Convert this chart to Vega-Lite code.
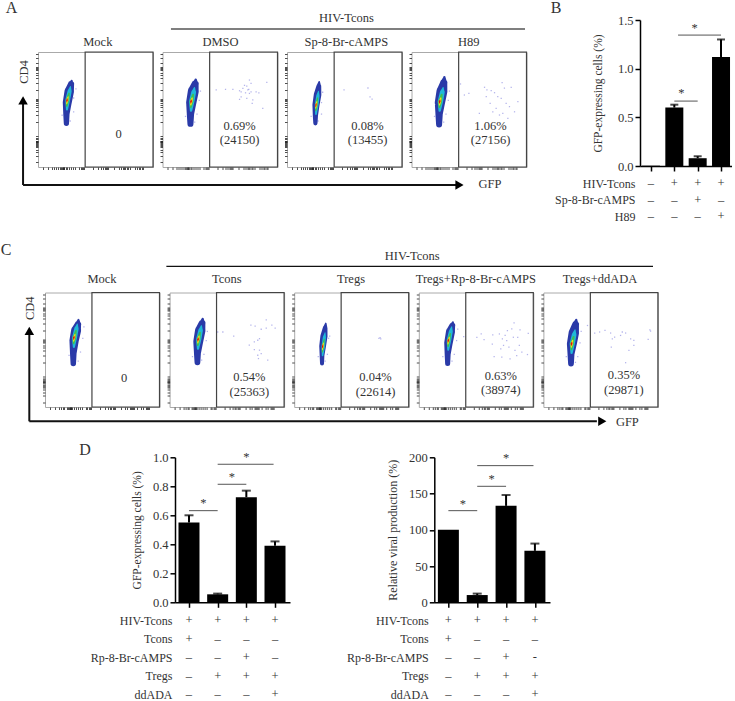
{"$schema":"https://vega.github.io/schema/vega-lite/v6.json","padding":0,"background":"#ffffff","spacing":272.5,"bounds":"flush",
"config":{"view":{"stroke":null},"axis":{"grid":false,"tickCount":100,"labelOverlap":false,"labelFont":"Liberation Serif","titleFont":"Liberation Serif","labelColor":"#333","titleColor":"#333","titleFontWeight":"normal"},"text":{"font":"Liberation Serif","fontSize":12.5,"color":"#333"}},
"datasets":{
"barB":[{"group":1,"value":0.003},{"group":2,"value":0.6,"upper":0.63},{"group":3,"value":0.08,"upper":0.1},{"group":4,"value":1.12,"upper":1.3}],
"bracketB":[{"x":2,"x2":3,"y":0.667,"sx":2.3,"sy":0.75},{"x":2.16,"x2":4,"y":1.345,"sx":2.87,"sy":1.418}],
"matrixB":[{"cond":"HIV-Tcons","group":1,"sign":"–"},{"cond":"HIV-Tcons","group":2,"sign":"+"},{"cond":"HIV-Tcons","group":3,"sign":"+"},{"cond":"HIV-Tcons","group":4,"sign":"+"},{"cond":"Sp-8-Br-cAMPS","group":1,"sign":"–"},{"cond":"Sp-8-Br-cAMPS","group":2,"sign":"–"},{"cond":"Sp-8-Br-cAMPS","group":3,"sign":"+"},{"cond":"Sp-8-Br-cAMPS","group":4,"sign":"–"},{"cond":"H89","group":1,"sign":"–"},{"cond":"H89","group":2,"sign":"–"},{"cond":"H89","group":3,"sign":"–"},{"cond":"H89","group":4,"sign":"+"}],
"barD1":[{"group":1,"value":0.55,"upper":0.6},{"group":2,"value":0.055,"upper":0.06},{"group":3,"value":0.725,"upper":0.77},{"group":4,"value":0.39,"upper":0.42}],
"bracketD1":[{"x":1,"x2":2,"y":0.632,"sx":1.5,"sy":0.683},{"x":2,"x2":3,"y":0.814,"sx":2.5,"sy":0.862},{"x":2,"x2":3.95,"y":0.952,"sx":3,"sy":1.005}],
"barD2":[{"group":1,"value":100},{"group":2,"value":10,"upper":12},{"group":3,"value":133,"upper":148},{"group":4,"value":71,"upper":81}],
"bracketD2":[{"x":1,"x2":2,"y":126.4,"sx":1.5,"sy":136},{"x":2,"x2":3,"y":160,"sx":2.5,"sy":170},{"x":2,"x2":3.95,"y":188.5,"sx":3,"sy":199}],
"matrixD1":[{"cond":"HIV-Tcons","group":1,"sign":"+"},{"cond":"HIV-Tcons","group":2,"sign":"+"},{"cond":"HIV-Tcons","group":3,"sign":"+"},{"cond":"HIV-Tcons","group":4,"sign":"+"},{"cond":"Tcons","group":1,"sign":"+"},{"cond":"Tcons","group":2,"sign":"–"},{"cond":"Tcons","group":3,"sign":"–"},{"cond":"Tcons","group":4,"sign":"–"},{"cond":"Rp-8-Br-cAMPS","group":1,"sign":"–"},{"cond":"Rp-8-Br-cAMPS","group":2,"sign":"–"},{"cond":"Rp-8-Br-cAMPS","group":3,"sign":"+"},{"cond":"Rp-8-Br-cAMPS","group":4,"sign":"–"},{"cond":"Tregs","group":1,"sign":"–"},{"cond":"Tregs","group":2,"sign":"+"},{"cond":"Tregs","group":3,"sign":"+"},{"cond":"Tregs","group":4,"sign":"+"},{"cond":"ddADA","group":1,"sign":"–"},{"cond":"ddADA","group":2,"sign":"–"},{"cond":"ddADA","group":3,"sign":"–"},{"cond":"ddADA","group":4,"sign":"+"}],
"matrixD2":[{"cond":"HIV-Tcons","group":1,"sign":"+"},{"cond":"HIV-Tcons","group":2,"sign":"+"},{"cond":"HIV-Tcons","group":3,"sign":"+"},{"cond":"HIV-Tcons","group":4,"sign":"+"},{"cond":"Tcons","group":1,"sign":"+"},{"cond":"Tcons","group":2,"sign":"–"},{"cond":"Tcons","group":3,"sign":"–"},{"cond":"Tcons","group":4,"sign":"–"},{"cond":"Rp-8-Br-cAMPS","group":1,"sign":"–"},{"cond":"Rp-8-Br-cAMPS","group":2,"sign":"–"},{"cond":"Rp-8-Br-cAMPS","group":3,"sign":"+"},{"cond":"Rp-8-Br-cAMPS","group":4,"sign":"-"},{"cond":"Tregs","group":1,"sign":"–"},{"cond":"Tregs","group":2,"sign":"+"},{"cond":"Tregs","group":3,"sign":"+"},{"cond":"Tregs","group":4,"sign":"+"},{"cond":"ddADA","group":1,"sign":"–"},{"cond":"ddADA","group":2,"sign":"–"},{"cond":"ddADA","group":3,"sign":"–"},{"cond":"ddADA","group":4,"sign":"+"}],
"flowA":[
{"panel":"Mock","kind":"gate","x":41,"x2":100,"y":0,"y2":100},{"panel":"DMSO","kind":"gate","x":41,"x2":100,"y":0,"y2":100},{"panel":"Sp","kind":"gate","x":41,"x2":100,"y":0,"y2":100},{"panel":"H89","kind":"gate","x":41,"x2":100,"y":0,"y2":100},
{"panel":"Mock","kind":"line","x":-13,"x2":364,"y":-15.65,"y2":-15.65},{"panel":"Mock","kind":"line","x":-13,"x2":-13,"y":-15.65,"y2":55},
{"panel":"Mock","kind":"up","x":-13,"y":58},{"panel":"Mock","kind":"right","x":366.5,"y":-15.65},
{"panel":"Mock","kind":"vtext","x":-12.2,"y":82.6,"label":"CD4"},{"panel":"Mock","kind":"text","x":393,"y":-14.8,"label":"GFP"},
{"panel":"Mock","kind":"text","x":52,"y":108.7,"label":"Mock"},{"panel":"DMSO","kind":"text","x":50.4,"y":108.7,"label":"DMSO"},{"panel":"Sp","kind":"text","x":51.6,"y":108.7,"label":"Sp-8-Br-cAMPS"},{"panel":"H89","kind":"text","x":49.8,"y":108.7,"label":"H89"},
{"panel":"Mock","kind":"text","x":70,"y":28.7,"label":"0"},{"panel":"DMSO","kind":"text","x":67,"y":36,"label":"0.69%"},{"panel":"DMSO","kind":"text","x":67,"y":23.5,"label":"(24150)"},{"panel":"Sp","kind":"text","x":70,"y":36,"label":"0.08%"},{"panel":"Sp","kind":"text","x":70,"y":23.5,"label":"(13455)"},{"panel":"H89","kind":"text","x":68.7,"y":36,"label":"1.06%"},{"panel":"H89","kind":"text","x":68.7,"y":23.5,"label":"(27156)"},
{"panel":"Mock","kind":"blob","band":"blue","x":24.7,"y":38,"w":5},{"panel":"Mock","kind":"blob","band":"blue","x":24.7,"y":46,"w":6},{"panel":"Mock","kind":"blob","band":"blue","x":25.4,"y":56,"w":8.5},{"panel":"Mock","kind":"blob","band":"blue","x":27.2,"y":66,"w":9},{"panel":"Mock","kind":"blob","band":"blue","x":28.7,"y":72,"w":6},{"panel":"Mock","kind":"blob","band":"blue","x":29.3,"y":75,"w":2},
{"panel":"Mock","kind":"blob","band":"cyan","x":25.2,"y":50,"w":2},{"panel":"Mock","kind":"blob","band":"cyan","x":25.8,"y":58,"w":4.5},{"panel":"Mock","kind":"blob","band":"cyan","x":27.5,"y":66,"w":4},{"panel":"Mock","kind":"blob","band":"cyan","x":28.2,"y":70,"w":1},
{"panel":"Mock","kind":"blob","band":"green","x":25,"y":53,"w":1.5},{"panel":"Mock","kind":"blob","band":"green","x":25.6,"y":58,"w":3.2},{"panel":"Mock","kind":"blob","band":"green","x":27,"y":64,"w":1.5},
{"panel":"Mock","kind":"blob","band":"yellow","x":25,"y":55,"w":1},{"panel":"Mock","kind":"blob","band":"yellow","x":25.4,"y":58,"w":2.2},{"panel":"Mock","kind":"blob","band":"yellow","x":26.2,"y":61,"w":1},
{"panel":"Mock","kind":"blob","band":"red","x":25,"y":56.5,"w":0.6},{"panel":"Mock","kind":"blob","band":"red","x":25.2,"y":58,"w":1.6},{"panel":"Mock","kind":"blob","band":"red","x":25.5,"y":59.5,"w":0.5},
{"panel":"DMSO","kind":"blob","band":"blue","x":24.3,"y":37.5,"w":5.7},{"panel":"DMSO","kind":"blob","band":"blue","x":24.3,"y":46,"w":7},{"panel":"DMSO","kind":"blob","band":"blue","x":25,"y":56,"w":9.8},{"panel":"DMSO","kind":"blob","band":"blue","x":26.8,"y":66,"w":10.4},{"panel":"DMSO","kind":"blob","band":"blue","x":28.3,"y":72,"w":7},{"panel":"DMSO","kind":"blob","band":"blue","x":28.9,"y":76,"w":2.3},
{"panel":"DMSO","kind":"blob","band":"cyan","x":24.8,"y":49,"w":2.3},{"panel":"DMSO","kind":"blob","band":"cyan","x":25.4,"y":57,"w":5.2},{"panel":"DMSO","kind":"blob","band":"cyan","x":27.1,"y":65,"w":4.6},{"panel":"DMSO","kind":"blob","band":"cyan","x":27.8,"y":69,"w":1.2},
{"panel":"DMSO","kind":"blob","band":"green","x":24.6,"y":52,"w":1.7},{"panel":"DMSO","kind":"blob","band":"green","x":25.2,"y":57,"w":3.7},{"panel":"DMSO","kind":"blob","band":"green","x":26.6,"y":63,"w":1.7},
{"panel":"DMSO","kind":"blob","band":"yellow","x":24.6,"y":54,"w":1.2},{"panel":"DMSO","kind":"blob","band":"yellow","x":25,"y":57,"w":2.5},{"panel":"DMSO","kind":"blob","band":"yellow","x":25.8,"y":60,"w":1.2},
{"panel":"DMSO","kind":"blob","band":"red","x":24.6,"y":55.5,"w":0.7},{"panel":"DMSO","kind":"blob","band":"red","x":24.8,"y":57,"w":1.8},{"panel":"DMSO","kind":"blob","band":"red","x":25.1,"y":58.5,"w":0.6},
{"panel":"Sp","kind":"blob","band":"blue","x":24.7,"y":38,"w":4},{"panel":"Sp","kind":"blob","band":"blue","x":24.7,"y":45,"w":5},{"panel":"Sp","kind":"blob","band":"blue","x":25.2,"y":54,"w":6.8},{"panel":"Sp","kind":"blob","band":"blue","x":26.6,"y":63,"w":7.2},{"panel":"Sp","kind":"blob","band":"blue","x":27.6,"y":70,"w":4.8},{"panel":"Sp","kind":"blob","band":"blue","x":28,"y":74,"w":1.6},
{"panel":"Sp","kind":"blob","band":"cyan","x":25.2,"y":46,"w":1.6},{"panel":"Sp","kind":"blob","band":"cyan","x":25.8,"y":54,"w":3.6},{"panel":"Sp","kind":"blob","band":"cyan","x":26.9,"y":62,"w":3.2},{"panel":"Sp","kind":"blob","band":"cyan","x":27.4,"y":66,"w":0.8},
{"panel":"Sp","kind":"blob","band":"green","x":25,"y":49,"w":1.2},{"panel":"Sp","kind":"blob","band":"green","x":25.6,"y":54,"w":2.6},{"panel":"Sp","kind":"blob","band":"green","x":26.6,"y":60,"w":1.2},
{"panel":"Sp","kind":"blob","band":"yellow","x":25,"y":51,"w":0.8},{"panel":"Sp","kind":"blob","band":"yellow","x":25.4,"y":54,"w":1.8},{"panel":"Sp","kind":"blob","band":"yellow","x":26,"y":57,"w":0.8},
{"panel":"Sp","kind":"blob","band":"red","x":25,"y":52.5,"w":0.5},{"panel":"Sp","kind":"blob","band":"red","x":25.2,"y":54,"w":1.3},{"panel":"Sp","kind":"blob","band":"red","x":25.5,"y":55.5,"w":0.4},
{"panel":"H89","kind":"blob","band":"blue","x":24,"y":37,"w":5.7},{"panel":"H89","kind":"blob","band":"blue","x":24,"y":46,"w":7},{"panel":"H89","kind":"blob","band":"blue","x":24.7,"y":56,"w":9.8},{"panel":"H89","kind":"blob","band":"blue","x":26.5,"y":66,"w":10.4},{"panel":"H89","kind":"blob","band":"blue","x":28,"y":73,"w":7},{"panel":"H89","kind":"blob","band":"blue","x":28.6,"y":78,"w":2.3},
{"panel":"H89","kind":"blob","band":"cyan","x":24.5,"y":49,"w":2.3},{"panel":"H89","kind":"blob","band":"cyan","x":25.1,"y":57,"w":5.2},{"panel":"H89","kind":"blob","band":"cyan","x":26.8,"y":65,"w":4.6},{"panel":"H89","kind":"blob","band":"cyan","x":27.5,"y":69,"w":1.2},
{"panel":"H89","kind":"blob","band":"green","x":24.3,"y":52,"w":1.7},{"panel":"H89","kind":"blob","band":"green","x":24.9,"y":57,"w":3.7},{"panel":"H89","kind":"blob","band":"green","x":26.3,"y":63,"w":1.7},
{"panel":"H89","kind":"blob","band":"yellow","x":24.3,"y":54,"w":1.2},{"panel":"H89","kind":"blob","band":"yellow","x":24.7,"y":57,"w":2.5},{"panel":"H89","kind":"blob","band":"yellow","x":25.5,"y":60,"w":1.2},
{"panel":"H89","kind":"blob","band":"red","x":24.3,"y":55.5,"w":0.7},{"panel":"H89","kind":"blob","band":"red","x":24.5,"y":57,"w":1.8},{"panel":"H89","kind":"blob","band":"red","x":24.8,"y":58.5,"w":0.6},
{"panel":"Mock","kind":"dot","x":31,"y":60},{"panel":"Mock","kind":"dot","x":21,"y":45},{"panel":"Mock","kind":"dot","x":31,"y":48},{"panel":"Mock","kind":"dot","x":33,"y":68},{"panel":"Mock","kind":"dot","x":28,"y":40},
{"panel":"DMSO","kind":"dot","x":32,"y":58},{"panel":"DMSO","kind":"dot","x":20,"y":44},{"panel":"DMSO","kind":"dot","x":30,"y":46},{"panel":"DMSO","kind":"dot","x":33,"y":66},{"panel":"DMSO","kind":"dot","x":28,"y":39},
{"panel":"DMSO","kind":"dot","x":46.7,"y":67},{"panel":"DMSO","kind":"dot","x":54.8,"y":67.5},{"panel":"DMSO","kind":"dot","x":61.2,"y":67.5},{"panel":"DMSO","kind":"dot","x":67,"y":66.3},{"panel":"DMSO","kind":"dot","x":68.4,"y":65.4},{"panel":"DMSO","kind":"dot","x":71.3,"y":71},{"panel":"DMSO","kind":"dot","x":73.3,"y":70.4},{"panel":"DMSO","kind":"dot","x":75.6,"y":75.6},{"panel":"DMSO","kind":"dot","x":77,"y":72.7},{"panel":"DMSO","kind":"dot","x":75,"y":67.5},{"panel":"DMSO","kind":"dot","x":77,"y":65.4},{"panel":"DMSO","kind":"dot","x":75.6,"y":64},{"panel":"DMSO","kind":"dot","x":72.2,"y":64.5},{"panel":"DMSO","kind":"dot","x":68.4,"y":61},{"panel":"DMSO","kind":"dot","x":73.3,"y":59.7},{"panel":"DMSO","kind":"dot","x":78.5,"y":58.3},{"panel":"DMSO","kind":"dot","x":81.4,"y":65.4},{"panel":"DMSO","kind":"dot","x":83.8,"y":64.5},{"panel":"DMSO","kind":"dot","x":87.2,"y":51},{"panel":"DMSO","kind":"dot","x":90.7,"y":73.6},{"panel":"DMSO","kind":"dot","x":69.9,"y":68.3},{"panel":"DMSO","kind":"dot","x":74.2,"y":67},{"panel":"DMSO","kind":"dot","x":67,"y":58.8},{"panel":"DMSO","kind":"dot","x":78,"y":55.3},
{"panel":"Sp","kind":"dot","x":30,"y":56},{"panel":"Sp","kind":"dot","x":21,"y":44},{"panel":"Sp","kind":"dot","x":30,"y":46},{"panel":"Sp","kind":"dot","x":31,"y":65},{"panel":"Sp","kind":"dot","x":27,"y":40},
{"panel":"Sp","kind":"dot","x":49.6,"y":67},{"panel":"Sp","kind":"dot","x":70.4,"y":68.7},{"panel":"Sp","kind":"dot","x":72.2,"y":60.9},{"panel":"Sp","kind":"dot","x":74,"y":59},
{"panel":"H89","kind":"dot","x":32,"y":58},{"panel":"H89","kind":"dot","x":20,"y":44},{"panel":"H89","kind":"dot","x":30,"y":46},{"panel":"H89","kind":"dot","x":33,"y":66},{"panel":"H89","kind":"dot","x":28,"y":39},
{"panel":"H89","kind":"dot","x":42.6,"y":72.2},{"panel":"H89","kind":"dot","x":46,"y":62.6},{"panel":"H89","kind":"dot","x":49.9,"y":64},{"panel":"H89","kind":"dot","x":63.5,"y":69.3},{"panel":"H89","kind":"dot","x":65.6,"y":67},{"panel":"H89","kind":"dot","x":69.3,"y":66.4},{"panel":"H89","kind":"dot","x":72.2,"y":64.6},{"panel":"H89","kind":"dot","x":65,"y":61.2},{"panel":"H89","kind":"dot","x":75,"y":61.2},{"panel":"H89","kind":"dot","x":78.8,"y":73.4},{"panel":"H89","kind":"dot","x":80.8,"y":68.6},{"panel":"H89","kind":"dot","x":86.7,"y":69.3},{"panel":"H89","kind":"dot","x":78,"y":59.7},{"panel":"H89","kind":"dot","x":68.4,"y":55.4},{"panel":"H89","kind":"dot","x":82.3,"y":55.4},{"panel":"H89","kind":"dot","x":85.2,"y":52.5},{"panel":"H89","kind":"dot","x":92.5,"y":56.8},{"panel":"H89","kind":"dot","x":73.6,"y":51},{"panel":"H89","kind":"dot","x":59,"y":46.6},{"panel":"H89","kind":"dot","x":79.4,"y":46.6},{"panel":"H89","kind":"dot","x":83.8,"y":42.3},{"panel":"H89","kind":"dot","x":70.7,"y":48},{"panel":"H89","kind":"dot","x":89.6,"y":48},{"panel":"H89","kind":"dot","x":76.5,"y":45.2}
],
"flowC":[
{"panel":"Mock","kind":"gate","x":41,"x2":100,"y":0,"y2":100},{"panel":"Tcons","kind":"gate","x":41,"x2":100,"y":0,"y2":100},{"panel":"Tregs","kind":"gate","x":41,"x2":100,"y":0,"y2":100},{"panel":"Rp","kind":"gate","x":41,"x2":100,"y":0,"y2":100},{"panel":"dd","kind":"gate","x":41,"x2":100,"y":0,"y2":100},
{"panel":"Mock","kind":"line","x":-13.7,"x2":482,"y":-12.5,"y2":-12.5},{"panel":"Mock","kind":"line","x":-13.7,"x2":-13.7,"y":-12.5,"y2":64},
{"panel":"Mock","kind":"up","x":-13.7,"y":66.5},{"panel":"Mock","kind":"right","x":486.7,"y":-12.5},
{"panel":"Mock","kind":"bracket","x":106,"x2":531,"y":122.9,"y2":122.9},
{"panel":"Mock","kind":"vtext","x":-12.8,"y":86.2,"label":"CD4"},{"panel":"Mock","kind":"text","x":508.6,"y":-13.4,"label":"GFP"},{"panel":"Mock","kind":"text","x":320.7,"y":131.6,"label":"HIV-Tcons"},
{"panel":"Mock","kind":"text","x":49.8,"y":111.5,"label":"Mock"},{"panel":"Tcons","kind":"text","x":49.9,"y":111.5,"label":"Tcons"},{"panel":"Tregs","kind":"text","x":49.6,"y":111.5,"label":"Tregs"},{"panel":"Rp","kind":"text","x":49.8,"y":111.5,"label":"Tregs+Rp-8-Br-cAMPS"},{"panel":"dd","kind":"text","x":49.4,"y":111.5,"label":"Tregs+ddADA"},
{"panel":"Mock","kind":"text","x":69,"y":25,"label":"0"},{"panel":"Tcons","kind":"text","x":69.6,"y":26,"label":"0.54%"},{"panel":"Tcons","kind":"text","x":69.6,"y":13,"label":"(25363)"},{"panel":"Tregs","kind":"text","x":71,"y":26,"label":"0.04%"},{"panel":"Tregs","kind":"text","x":71,"y":13,"label":"(22614)"},{"panel":"Rp","kind":"text","x":71.6,"y":27,"label":"0.63%"},{"panel":"Rp","kind":"text","x":71.6,"y":14.6,"label":"(38974)"},{"panel":"dd","kind":"text","x":70.3,"y":27.7,"label":"0.35%"},{"panel":"dd","kind":"text","x":70.3,"y":15,"label":"(29871)"},
{"panel":"Mock","kind":"blob","band":"blue","x":24.7,"y":38,"w":5.2},{"panel":"Mock","kind":"blob","band":"blue","x":24.7,"y":47,"w":6.3},{"panel":"Mock","kind":"blob","band":"blue","x":25.4,"y":58,"w":8.9},{"panel":"Mock","kind":"blob","band":"blue","x":27.2,"y":67,"w":9.5},{"panel":"Mock","kind":"blob","band":"blue","x":28.7,"y":72,"w":6.3},{"panel":"Mock","kind":"blob","band":"blue","x":29.3,"y":76,"w":2.1},
{"panel":"Mock","kind":"blob","band":"cyan","x":25.2,"y":52.5,"w":2.1},{"panel":"Mock","kind":"blob","band":"cyan","x":25.8,"y":60.5,"w":4.7},{"panel":"Mock","kind":"blob","band":"cyan","x":27.5,"y":68.5,"w":4.2},{"panel":"Mock","kind":"blob","band":"cyan","x":28.2,"y":72.5,"w":1},
{"panel":"Mock","kind":"blob","band":"green","x":25,"y":55.5,"w":1.6},{"panel":"Mock","kind":"blob","band":"green","x":25.6,"y":60.5,"w":3.4},{"panel":"Mock","kind":"blob","band":"green","x":27,"y":66.5,"w":1.6},
{"panel":"Mock","kind":"blob","band":"yellow","x":25,"y":57.5,"w":1},{"panel":"Mock","kind":"blob","band":"yellow","x":25.4,"y":60.5,"w":2.3},{"panel":"Mock","kind":"blob","band":"yellow","x":26.2,"y":63.5,"w":1},
{"panel":"Mock","kind":"blob","band":"red","x":25,"y":59,"w":0.6},{"panel":"Mock","kind":"blob","band":"red","x":25.2,"y":60.5,"w":1.7},{"panel":"Mock","kind":"blob","band":"red","x":25.5,"y":62,"w":0.5},
{"panel":"Tcons","kind":"blob","band":"blue","x":24.3,"y":39,"w":5.5},{"panel":"Tcons","kind":"blob","band":"blue","x":24.3,"y":47,"w":6.6},{"panel":"Tcons","kind":"blob","band":"blue","x":25,"y":57,"w":9.4},{"panel":"Tcons","kind":"blob","band":"blue","x":26.8,"y":67,"w":9.9},{"panel":"Tcons","kind":"blob","band":"blue","x":28.3,"y":73,"w":6.6},{"panel":"Tcons","kind":"blob","band":"blue","x":28.9,"y":77,"w":2.2},
{"panel":"Tcons","kind":"blob","band":"cyan","x":24.8,"y":51,"w":2.2},{"panel":"Tcons","kind":"blob","band":"cyan","x":25.4,"y":59,"w":5},{"panel":"Tcons","kind":"blob","band":"cyan","x":27.1,"y":67,"w":4.4},{"panel":"Tcons","kind":"blob","band":"cyan","x":27.8,"y":71,"w":1.1},
{"panel":"Tcons","kind":"blob","band":"green","x":24.6,"y":54,"w":1.7},{"panel":"Tcons","kind":"blob","band":"green","x":25.2,"y":59,"w":3.5},{"panel":"Tcons","kind":"blob","band":"green","x":26.6,"y":65,"w":1.7},
{"panel":"Tcons","kind":"blob","band":"yellow","x":24.6,"y":56,"w":1.1},{"panel":"Tcons","kind":"blob","band":"yellow","x":25,"y":59,"w":2.4},{"panel":"Tcons","kind":"blob","band":"yellow","x":25.8,"y":62,"w":1.1},
{"panel":"Tcons","kind":"blob","band":"red","x":24.6,"y":57.5,"w":0.7},{"panel":"Tcons","kind":"blob","band":"red","x":24.8,"y":59,"w":1.8},{"panel":"Tcons","kind":"blob","band":"red","x":25.1,"y":60.5,"w":0.6},
{"panel":"Tregs","kind":"blob","band":"blue","x":24.3,"y":38,"w":3.8},{"panel":"Tregs","kind":"blob","band":"blue","x":24.3,"y":45,"w":4.5},{"panel":"Tregs","kind":"blob","band":"blue","x":24.8,"y":53,"w":6.4},{"panel":"Tregs","kind":"blob","band":"blue","x":26,"y":62,"w":6.8},{"panel":"Tregs","kind":"blob","band":"blue","x":27,"y":69,"w":4.5},{"panel":"Tregs","kind":"blob","band":"blue","x":27.6,"y":73,"w":1.5},
{"panel":"Tregs","kind":"blob","band":"cyan","x":24.8,"y":45,"w":1.5},{"panel":"Tregs","kind":"blob","band":"cyan","x":25.4,"y":53,"w":3.4},{"panel":"Tregs","kind":"blob","band":"cyan","x":26.4,"y":61,"w":3},{"panel":"Tregs","kind":"blob","band":"cyan","x":27,"y":65,"w":0.8},
{"panel":"Tregs","kind":"blob","band":"green","x":24.6,"y":48,"w":1.1},{"panel":"Tregs","kind":"blob","band":"green","x":25.2,"y":53,"w":2.4},{"panel":"Tregs","kind":"blob","band":"green","x":26.2,"y":59,"w":1.1},
{"panel":"Tregs","kind":"blob","band":"yellow","x":24.6,"y":50,"w":0.8},{"panel":"Tregs","kind":"blob","band":"yellow","x":25,"y":53,"w":1.7},{"panel":"Tregs","kind":"blob","band":"yellow","x":25.6,"y":56,"w":0.8},
{"panel":"Tregs","kind":"blob","band":"red","x":24.6,"y":51.5,"w":0.5},{"panel":"Tregs","kind":"blob","band":"red","x":24.8,"y":53,"w":1.2},{"panel":"Tregs","kind":"blob","band":"red","x":25.1,"y":54.5,"w":0.4},
{"panel":"Rp","kind":"blob","band":"blue","x":25.2,"y":38,"w":4.8},{"panel":"Rp","kind":"blob","band":"blue","x":25.2,"y":46,"w":5.7},{"panel":"Rp","kind":"blob","band":"blue","x":25.9,"y":56,"w":8.1},{"panel":"Rp","kind":"blob","band":"blue","x":27.7,"y":66,"w":8.6},{"panel":"Rp","kind":"blob","band":"blue","x":29.2,"y":71,"w":5.7},{"panel":"Rp","kind":"blob","band":"blue","x":29.8,"y":74,"w":1.9},
{"panel":"Rp","kind":"blob","band":"cyan","x":25.7,"y":50,"w":1.9},{"panel":"Rp","kind":"blob","band":"cyan","x":26.3,"y":58,"w":4.3},{"panel":"Rp","kind":"blob","band":"cyan","x":28,"y":66,"w":3.8},{"panel":"Rp","kind":"blob","band":"cyan","x":28.7,"y":70,"w":1},
{"panel":"Rp","kind":"blob","band":"green","x":25.5,"y":53,"w":1.4},{"panel":"Rp","kind":"blob","band":"green","x":26.1,"y":58,"w":3},{"panel":"Rp","kind":"blob","band":"green","x":27.5,"y":64,"w":1.4},
{"panel":"Rp","kind":"blob","band":"yellow","x":25.5,"y":55,"w":1},{"panel":"Rp","kind":"blob","band":"yellow","x":25.9,"y":58,"w":2.1},{"panel":"Rp","kind":"blob","band":"yellow","x":26.7,"y":61,"w":1},
{"panel":"Rp","kind":"blob","band":"red","x":25.5,"y":56.5,"w":0.6},{"panel":"Rp","kind":"blob","band":"red","x":25.7,"y":58,"w":1.5},{"panel":"Rp","kind":"blob","band":"red","x":26,"y":59.5,"w":0.5},
{"panel":"dd","kind":"blob","band":"blue","x":24.1,"y":38,"w":5.5},{"panel":"dd","kind":"blob","band":"blue","x":24.1,"y":46,"w":6.6},{"panel":"dd","kind":"blob","band":"blue","x":24.8,"y":55,"w":9.4},{"panel":"dd","kind":"blob","band":"blue","x":26.6,"y":65,"w":9.9},{"panel":"dd","kind":"blob","band":"blue","x":28.1,"y":72,"w":6.6},{"panel":"dd","kind":"blob","band":"blue","x":28.7,"y":76,"w":2.2},
{"panel":"dd","kind":"blob","band":"cyan","x":24.6,"y":47.3,"w":2.2},{"panel":"dd","kind":"blob","band":"cyan","x":25.2,"y":55.3,"w":5},{"panel":"dd","kind":"blob","band":"cyan","x":26.9,"y":63.3,"w":4.4},{"panel":"dd","kind":"blob","band":"cyan","x":27.6,"y":67.3,"w":1.1},
{"panel":"dd","kind":"blob","band":"green","x":24.4,"y":50.3,"w":1.7},{"panel":"dd","kind":"blob","band":"green","x":25,"y":55.3,"w":3.5},{"panel":"dd","kind":"blob","band":"green","x":26.4,"y":61.3,"w":1.7},
{"panel":"dd","kind":"blob","band":"yellow","x":24.4,"y":52.3,"w":1.1},{"panel":"dd","kind":"blob","band":"yellow","x":24.8,"y":55.3,"w":2.4},{"panel":"dd","kind":"blob","band":"yellow","x":25.6,"y":58.3,"w":1.1},
{"panel":"dd","kind":"blob","band":"red","x":24.4,"y":53.8,"w":0.7},{"panel":"dd","kind":"blob","band":"red","x":24.6,"y":55.3,"w":1.8},{"panel":"dd","kind":"blob","band":"red","x":24.9,"y":56.8,"w":0.6},
{"panel":"Mock","kind":"dot","x":33,"y":60},{"panel":"Mock","kind":"dot","x":21,"y":45},{"panel":"Mock","kind":"dot","x":31,"y":48},{"panel":"Mock","kind":"dot","x":34,"y":70},{"panel":"Mock","kind":"dot","x":29,"y":40},
{"panel":"Tcons","kind":"dot","x":32,"y":58},{"panel":"Tcons","kind":"dot","x":20,"y":44},{"panel":"Tcons","kind":"dot","x":30,"y":46},{"panel":"Tcons","kind":"dot","x":33,"y":66},{"panel":"Tcons","kind":"dot","x":28,"y":41},
{"panel":"Tregs","kind":"dot","x":30,"y":60},{"panel":"Tregs","kind":"dot","x":21,"y":44},{"panel":"Tregs","kind":"dot","x":29,"y":46},{"panel":"Tregs","kind":"dot","x":31,"y":62},{"panel":"Tregs","kind":"dot","x":27,"y":40},
{"panel":"Rp","kind":"dot","x":33,"y":58},{"panel":"Rp","kind":"dot","x":21,"y":44},{"panel":"Rp","kind":"dot","x":31,"y":46},{"panel":"Rp","kind":"dot","x":34,"y":68},{"panel":"Rp","kind":"dot","x":29,"y":40},
{"panel":"dd","kind":"dot","x":32,"y":56},{"panel":"dd","kind":"dot","x":20,"y":44},{"panel":"dd","kind":"dot","x":30,"y":44},{"panel":"dd","kind":"dot","x":33,"y":66},{"panel":"dd","kind":"dot","x":28,"y":39},
{"panel":"Tcons","kind":"dot","x":42,"y":65.5},{"panel":"Tcons","kind":"dot","x":46.5,"y":65.5},{"panel":"Tcons","kind":"dot","x":56,"y":61.9},{"panel":"Tcons","kind":"dot","x":71,"y":71.5},{"panel":"Tcons","kind":"dot","x":74.7,"y":70.6},{"panel":"Tcons","kind":"dot","x":84.4,"y":76},{"panel":"Tcons","kind":"dot","x":80,"y":67.9},{"panel":"Tcons","kind":"dot","x":84.4,"y":68.8},{"panel":"Tcons","kind":"dot","x":89.3,"y":71.5},{"panel":"Tcons","kind":"dot","x":92.2,"y":68.8},{"panel":"Tcons","kind":"dot","x":77,"y":58.3},{"panel":"Tcons","kind":"dot","x":78.5,"y":59.7},{"panel":"Tcons","kind":"dot","x":74,"y":56.9},{"panel":"Tcons","kind":"dot","x":69.6,"y":54},{"panel":"Tcons","kind":"dot","x":74,"y":50.2},{"panel":"Tcons","kind":"dot","x":78.5,"y":49.6},{"panel":"Tcons","kind":"dot","x":77,"y":45.2},{"panel":"Tcons","kind":"dot","x":80,"y":46.6},{"panel":"Tcons","kind":"dot","x":77.6,"y":42.3},{"panel":"Tcons","kind":"dot","x":85.7,"y":41},
{"panel":"Tregs","kind":"dot","x":74,"y":60},{"panel":"Tregs","kind":"dot","x":75,"y":60.5},{"panel":"Tregs","kind":"dot","x":75.6,"y":59.5},
{"panel":"Rp","kind":"dot","x":39.2,"y":61.4},{"panel":"Rp","kind":"dot","x":50.7,"y":60.9},{"panel":"Rp","kind":"dot","x":54.5,"y":63.8},{"panel":"Rp","kind":"dot","x":57,"y":58.9},{"panel":"Rp","kind":"dot","x":64.6,"y":63},{"panel":"Rp","kind":"dot","x":70.4,"y":63.8},{"panel":"Rp","kind":"dot","x":77.4,"y":66.7},{"panel":"Rp","kind":"dot","x":83.2,"y":73.4},{"panel":"Rp","kind":"dot","x":81.2,"y":68.3},{"panel":"Rp","kind":"dot","x":88.4,"y":67.4},{"panel":"Rp","kind":"dot","x":95.6,"y":64.4},{"panel":"Rp","kind":"dot","x":73,"y":59.5},{"panel":"Rp","kind":"dot","x":76.8,"y":58},{"panel":"Rp","kind":"dot","x":82.6,"y":60.9},{"panel":"Rp","kind":"dot","x":86.4,"y":60.9},{"panel":"Rp","kind":"dot","x":74,"y":53.8},{"panel":"Rp","kind":"dot","x":78.7,"y":52.3},{"panel":"Rp","kind":"dot","x":71.6,"y":50.8},{"panel":"Rp","kind":"dot","x":84,"y":49.4},{"panel":"Rp","kind":"dot","x":90,"y":47.9},{"panel":"Rp","kind":"dot","x":65.8,"y":44},{"panel":"Rp","kind":"dot","x":72.5,"y":43.5},{"panel":"Rp","kind":"dot","x":79.7,"y":42},{"panel":"Rp","kind":"dot","x":85.5,"y":44.9},{"panel":"Rp","kind":"dot","x":94.9,"y":45.8},{"panel":"Rp","kind":"dot","x":64.2,"y":55},{"panel":"Rp","kind":"dot","x":87.8,"y":53.8},{"panel":"Rp","kind":"dot","x":75.4,"y":62.5},
{"panel":"dd","kind":"dot","x":38.5,"y":71.2},{"panel":"dd","kind":"dot","x":44.8,"y":64.6},{"panel":"dd","kind":"dot","x":49.1,"y":65.5},{"panel":"dd","kind":"dot","x":53.8,"y":66.9},{"panel":"dd","kind":"dot","x":58.7,"y":64.6},{"panel":"dd","kind":"dot","x":60.2,"y":59.6},{"panel":"dd","kind":"dot","x":62.2,"y":61},{"panel":"dd","kind":"dot","x":67.4,"y":62.5},{"panel":"dd","kind":"dot","x":68.9,"y":65.5},{"panel":"dd","kind":"dot","x":71.8,"y":64.6},{"panel":"dd","kind":"dot","x":76.2,"y":59.6},{"panel":"dd","kind":"dot","x":79,"y":58.1},{"panel":"dd","kind":"dot","x":79,"y":53.8},{"panel":"dd","kind":"dot","x":59.3,"y":52.3},{"panel":"dd","kind":"dot","x":74.7,"y":49.4},{"panel":"dd","kind":"dot","x":71.8,"y":38.7},{"panel":"dd","kind":"dot","x":93,"y":67.4},{"panel":"dd","kind":"dot","x":91.5,"y":59},{"panel":"dd","kind":"dot","x":93.6,"y":66.3}
]},
"vconcat":[
{"spacing":602,"bounds":"flush","hconcat":[
 {"spacing":0,"bounds":"flush","vconcat":[
  {"width":489,"height":32,"data":{"values":[{"a":1.068,"b":3.912,"y":23,"t":"HIV-Tcons","tx":2.478,"ty":34,"letter":"A","lx":-0.213,"ly":44}]},
   "layer":[
    {"mark":{"type":"rule","color":"#555","strokeWidth":1.5},"encoding":{"x":{"field":"a","type":"quantitative","axis":null,"scale":{"domain":[0,3.928],"nice":false,"zero":false}},"x2":{"field":"b"},"y":{"field":"y","type":"quantitative","axis":null,"scale":{"domain":[0,32],"nice":false}}}},
    {"mark":{"type":"text","fontSize":12.5},"encoding":{"x":{"field":"tx","type":"quantitative"},"y":{"field":"ty","type":"quantitative"},"text":{"field":"t"}}},
    {"mark":{"type":"text","fontSize":16},"encoding":{"x":{"field":"lx","type":"quantitative"},"y":{"field":"ly","type":"quantitative"},"text":{"field":"letter"}}}
   ]},
  {"data":{"name":"flowA"},"bounds":"flush","spacing":{"column":9.5},"resolve":{"axis":{"x":"independent","y":"independent"}},
   "facet":{"column":{"field":"panel","type":"nominal","sort":["Mock","DMSO","Sp","H89"],"header":null}},
   "spec":{"width":115,"height":115,"view":{"stroke":"#aaa"},
    "encoding":{
     "x":{"field":"x","type":"quantitative","scale":{"domain":[0,100],"nice":false,"zero":false},"axis":{"title":null,"labels":false,"domain":false,"tickSize":2.5,"tickColor":"#222","tickWidth":0.8,"values":[4,9,12,14,15.5,17,19,20,21,21.5,22,22.5,23,24,25,27,29,30.5,32,36,37,38,39,40,48,52,55,56.5,58,59,60,61,66,70,72,74,75,76,77,78,80,84,86,88,89,90,91]}},
     "y":{"field":"y","type":"quantitative","scale":{"domain":[0,100],"nice":false,"zero":false},"axis":{"title":null,"labels":false,"domain":false,"tickSize":2.5,"tickColor":"#222","tickWidth":0.8,"values":[4.3,10,13,15,17,18,19,20,21,21.5,22,22.5,23,24,25,27,39,45,49,52,54,56,57,58,59,67,73,77,80,82,84,85,86,87,90.4,95,98]}}},
    "layer":[
     {"transform":[{"filter":"datum.kind=='gate'"}],"mark":{"type":"rect","fill":null,"stroke":"#444","strokeWidth":1.2},"encoding":{"x2":{"field":"x2"},"y2":{"field":"y2"}}},
     {"transform":[{"filter":"datum.kind=='line'"}],"mark":{"type":"rule","color":"#111","strokeWidth":2},"encoding":{"x2":{"field":"x2"},"y2":{"field":"y2"}}},
     {"transform":[{"filter":"datum.kind=='up'"}],"mark":{"type":"point","shape":"triangle-up","filled":true,"color":"#000","opacity":1,"size":90}},
     {"transform":[{"filter":"datum.kind=='right'"}],"mark":{"type":"point","shape":"triangle-right","filled":true,"color":"#000","opacity":1,"size":90}},
     {"transform":[{"filter":"datum.kind=='dot'"}],"mark":{"type":"square","color":"#8c8ce0","opacity":0.65,"size":1.6}},
     {"transform":[{"filter":"datum.kind=='blob'"}],"mark":{"type":"trail"},"encoding":{"color":{"field":"band","type":"nominal","legend":null,"scale":{"domain":["blue","cyan","green","yellow","red"],"range":["#2a3aa8","#20b8d8","#40c050","#f0e020","#e01010"]}},"size":{"field":"w","type":"quantitative","legend":null,"scale":{"domain":[0,100],"range":[0,105]}},"order":{"field":"y","type":"quantitative"}}},
     {"transform":[{"filter":"datum.kind=='text'"}],"mark":{"type":"text","fontSize":12.5},"encoding":{"text":{"field":"label"}}},
     {"transform":[{"filter":"datum.kind=='vtext'"}],"mark":{"type":"text","fontSize":12.5,"angle":270},"encoding":{"text":{"field":"label"}}}
    ]}}
 ]},
 {"spacing":8.75,"bounds":"flush","vconcat":[
  {"width":92,"height":146,
   "layer":[
    {"data":{"name":"barB"},"mark":{"type":"bar","color":"#000","width":18},"encoding":{"x":{"field":"group","type":"quantitative","scale":{"domain":[0.53,4.47],"nice":false,"zero":false,"padding":0},"axis":{"title":null,"values":[1,2,3,4],"labels":false,"domainColor":"#000","domainWidth":1.5,"tickColor":"#000","tickWidth":1.5,"tickSize":5}},"y":{"field":"value","type":"quantitative","scale":{"domain":[0,1.5],"nice":false},"axis":{"title":"GFP-expressing cells (%)","titleFontSize":11.5,"titleX":-37,"values":[0,0.5,1,1.5],"format":".1f","labelFontSize":12.5,"domainColor":"#000","domainWidth":1.5,"tickColor":"#000","tickWidth":1.5,"tickSize":5}}}},
    {"data":{"name":"barB"},"transform":[{"filter":"datum.upper"}],"mark":{"type":"rule","color":"#000","strokeWidth":2},"encoding":{"x":{"field":"group","type":"quantitative"},"y":{"field":"value","type":"quantitative"},"y2":{"field":"upper"}}},
    {"data":{"name":"barB"},"transform":[{"filter":"datum.upper"}],"mark":{"type":"tick","color":"#000","orient":"horizontal","size":8,"thickness":2},"encoding":{"x":{"field":"group","type":"quantitative"},"y":{"field":"upper","type":"quantitative"}}},
    {"data":{"name":"bracketB"},"mark":{"type":"rule","color":"#555","strokeWidth":1},"encoding":{"x":{"field":"x","type":"quantitative"},"x2":{"field":"x2"},"y":{"field":"y","type":"quantitative"}}},
    {"data":{"name":"bracketB"},"mark":{"type":"text","fontSize":12.5},"encoding":{"x":{"field":"sx","type":"quantitative"},"y":{"field":"sy","type":"quantitative"},"text":{"value":"*"}}},
    {"data":{"values":[{"x":-3.06,"y":1.62,"letter":"B"}]},"mark":{"type":"text","fontSize":16},"encoding":{"x":{"field":"x","type":"quantitative"},"y":{"field":"y","type":"quantitative"},"text":{"field":"letter"}}}
   ]},
  {"width":92,"height":49.5,"data":{"name":"matrixB"},"mark":{"type":"text","fontSize":12.5},"encoding":{"x":{"field":"group","type":"quantitative","axis":null,"scale":{"domain":[0.53,4.47],"nice":false,"zero":false}},"y":{"field":"cond","type":"nominal","sort":["HIV-Tcons","Sp-8-Br-cAMPS","H89"],"axis":{"title":null,"domain":false,"ticks":false,"labelPadding":5,"labelFontSize":12}},"text":{"field":"sign"}}}
 ]}
]},
{"spacing":164.8,"bounds":"flush","vconcat":[
 {"spacing":0,"bounds":"flush","hconcat":[
  {"width":6.7,"height":114.5,"data":{"values":[{"x":-32,"y":156.7,"letter":"C"}]},"mark":{"type":"text","fontSize":16},"encoding":{"x":{"field":"x","type":"quantitative","axis":null,"scale":{"domain":[0,6.7],"nice":false,"zero":false}},"y":{"field":"y","type":"quantitative","axis":null,"scale":{"domain":[0,114.5],"nice":false}},"text":{"field":"letter"}}},
  {"data":{"name":"flowC"},"bounds":"flush","spacing":{"column":9.6},"resolve":{"axis":{"x":"independent","y":"independent"}},
   "facet":{"column":{"field":"panel","type":"nominal","sort":["Mock","Tcons","Tregs","Rp","dd"],"header":null}},
   "spec":{"width":114.5,"height":114.5,"view":{"stroke":"#aaa"},
    "encoding":{
     "x":{"field":"x","type":"quantitative","scale":{"domain":[0,100],"nice":false,"zero":false},"axis":{"title":null,"labels":false,"domain":false,"tickSize":2.5,"tickColor":"#222","tickWidth":0.8,"values":[4,9,12,14,15.5,17,19,20,21,21.5,22,22.5,23,24,25,27,29,30.5,32,36,37,38,39,40,48,52,55,56.5,58,59,60,61,66,70,72,74,75,76,77,78,80,84,86,88,89,90,91]}},
     "y":{"field":"y","type":"quantitative","scale":{"domain":[0,100],"nice":false,"zero":false},"axis":{"title":null,"labels":false,"domain":false,"tickSize":2.5,"tickColor":"#222","tickWidth":0.8,"values":[4.3,10,13,15,17,18,19,20,21,21.5,22,22.5,23,24,25,27,39,45,49,52,54,56,57,58,59,67,73,77,80,82,84,85,86,87,90.4,95,98]}}},
    "layer":[
     {"transform":[{"filter":"datum.kind=='gate'"}],"mark":{"type":"rect","fill":null,"stroke":"#444","strokeWidth":1.2},"encoding":{"x2":{"field":"x2"},"y2":{"field":"y2"}}},
     {"transform":[{"filter":"datum.kind=='line'"}],"mark":{"type":"rule","color":"#111","strokeWidth":2},"encoding":{"x2":{"field":"x2"},"y2":{"field":"y2"}}},
     {"transform":[{"filter":"datum.kind=='bracket'"}],"mark":{"type":"rule","color":"#111","strokeWidth":1.2},"encoding":{"x2":{"field":"x2"},"y2":{"field":"y2"}}},
     {"transform":[{"filter":"datum.kind=='up'"}],"mark":{"type":"point","shape":"triangle-up","filled":true,"color":"#000","opacity":1,"size":90}},
     {"transform":[{"filter":"datum.kind=='right'"}],"mark":{"type":"point","shape":"triangle-right","filled":true,"color":"#000","opacity":1,"size":90}},
     {"transform":[{"filter":"datum.kind=='dot'"}],"mark":{"type":"square","color":"#8c8ce0","opacity":0.65,"size":1.6}},
     {"transform":[{"filter":"datum.kind=='blob'"}],"mark":{"type":"trail"},"encoding":{"color":{"field":"band","type":"nominal","legend":null,"scale":{"domain":["blue","cyan","green","yellow","red"],"range":["#2a3aa8","#20b8d8","#40c050","#f0e020","#e01010"]}},"size":{"field":"w","type":"quantitative","legend":null,"scale":{"domain":[0,100],"range":[0,105]}},"order":{"field":"y","type":"quantitative"}}},
     {"transform":[{"filter":"datum.kind=='text'"}],"mark":{"type":"text","fontSize":12.5},"encoding":{"text":{"field":"label"}}},
     {"transform":[{"filter":"datum.kind=='vtext'"}],"mark":{"type":"text","fontSize":12.5,"angle":270},"encoding":{"text":{"field":"label"}}}
    ]}}
 ]},
 {"spacing":0,"bounds":"flush","hconcat":[
  {"width":137,"height":145,"data":{"values":[{"x":47,"y":152.3,"letter":"D"}]},"mark":{"type":"text","fontSize":16},"encoding":{"x":{"field":"x","type":"quantitative","axis":null,"scale":{"domain":[0,137],"nice":false,"zero":false}},"y":{"field":"y","type":"quantitative","axis":null,"scale":{"domain":[0,145],"nice":false}},"text":{"field":"letter"}}},
  {"spacing":259.3,"bounds":"flush","hconcat":[
   {"spacing":8.45,"bounds":"flush","vconcat":[
    {"width":115,"height":145,"layer":[
     {"data":{"name":"barD1"},"mark":{"type":"bar","color":"#000","width":21},"encoding":{"x":{"field":"group","type":"quantitative","scale":{"domain":[0.512,4.523],"nice":false,"zero":false,"padding":0},"axis":{"title":null,"values":[1,2,3,4],"labels":false,"domainColor":"#000","domainWidth":1.5,"tickColor":"#000","tickWidth":1.5,"tickSize":5}},"y":{"field":"value","type":"quantitative","scale":{"domain":[0,1],"nice":false},"axis":{"title":"GFP-expressing cells (%)","titleFontSize":11.5,"titleX":-33,"values":[0,0.2,0.4,0.6,0.8,1],"format":".1f","labelFontSize":12.5,"domainColor":"#000","domainWidth":1.5,"tickColor":"#000","tickWidth":1.5,"tickSize":5}}}},
     {"data":{"name":"barD1"},"mark":{"type":"rule","color":"#000","strokeWidth":2},"encoding":{"x":{"field":"group","type":"quantitative"},"y":{"field":"value","type":"quantitative"},"y2":{"field":"upper"}}},
     {"data":{"name":"barD1"},"mark":{"type":"tick","color":"#000","orient":"horizontal","size":9,"thickness":2},"encoding":{"x":{"field":"group","type":"quantitative"},"y":{"field":"upper","type":"quantitative"}}},
     {"data":{"name":"bracketD1"},"mark":{"type":"rule","color":"#555","strokeWidth":1},"encoding":{"x":{"field":"x","type":"quantitative"},"x2":{"field":"x2"},"y":{"field":"y","type":"quantitative"}}},
     {"data":{"name":"bracketD1"},"mark":{"type":"text","fontSize":12.5},"encoding":{"x":{"field":"sx","type":"quantitative"},"y":{"field":"sy","type":"quantitative"},"text":{"value":"*"}}}
    ]},
    {"width":115,"height":92.5,"data":{"name":"matrixD1"},"mark":{"type":"text","fontSize":12.5},"encoding":{"x":{"field":"group","type":"quantitative","axis":null,"scale":{"domain":[0.512,4.523],"nice":false,"zero":false}},"y":{"field":"cond","type":"nominal","sort":["HIV-Tcons","Tcons","Rp-8-Br-cAMPS","Tregs","ddADA"],"axis":{"title":null,"domain":false,"ticks":false,"labelPadding":3,"labelFontSize":12}},"text":{"field":"sign"}}}
   ]},
   {"spacing":8.45,"bounds":"flush","vconcat":[
    {"width":115.7,"height":145,"layer":[
     {"data":{"name":"barD2"},"mark":{"type":"bar","color":"#000","width":21},"encoding":{"x":{"field":"group","type":"quantitative","scale":{"domain":[0.512,4.523],"nice":false,"zero":false,"padding":0},"axis":{"title":null,"values":[1,2,3,4],"labels":false,"domainColor":"#000","domainWidth":1.5,"tickColor":"#000","tickWidth":1.5,"tickSize":5}},"y":{"field":"value","type":"quantitative","scale":{"domain":[0,200],"nice":false},"axis":{"title":"Relative viral production (%)","titleFontSize":12,"titleX":-35,"values":[0,50,100,150,200],"labelFontSize":12.5,"domainColor":"#000","domainWidth":1.5,"tickColor":"#000","tickWidth":1.5,"tickSize":5}}}},
     {"data":{"name":"barD2"},"transform":[{"filter":"datum.upper"}],"mark":{"type":"rule","color":"#000","strokeWidth":2},"encoding":{"x":{"field":"group","type":"quantitative"},"y":{"field":"value","type":"quantitative"},"y2":{"field":"upper"}}},
     {"data":{"name":"barD2"},"transform":[{"filter":"datum.upper"}],"mark":{"type":"tick","color":"#000","orient":"horizontal","size":9,"thickness":2},"encoding":{"x":{"field":"group","type":"quantitative"},"y":{"field":"upper","type":"quantitative"}}},
     {"data":{"name":"bracketD2"},"mark":{"type":"rule","color":"#555","strokeWidth":1},"encoding":{"x":{"field":"x","type":"quantitative"},"x2":{"field":"x2"},"y":{"field":"y","type":"quantitative"}}},
     {"data":{"name":"bracketD2"},"mark":{"type":"text","fontSize":12.5},"encoding":{"x":{"field":"sx","type":"quantitative"},"y":{"field":"sy","type":"quantitative"},"text":{"value":"*"}}}
    ]},
    {"width":115.7,"height":92.5,"data":{"name":"matrixD2"},"mark":{"type":"text","fontSize":12.5},"encoding":{"x":{"field":"group","type":"quantitative","axis":null,"scale":{"domain":[0.512,4.523],"nice":false,"zero":false}},"y":{"field":"cond","type":"nominal","sort":["HIV-Tcons","Tcons","Rp-8-Br-cAMPS","Tregs","ddADA"],"axis":{"title":null,"domain":false,"ticks":false,"labelPadding":6,"labelFontSize":12}},"text":{"field":"sign"}}}
   ]}
  ]}
 ]}
]}
]}
